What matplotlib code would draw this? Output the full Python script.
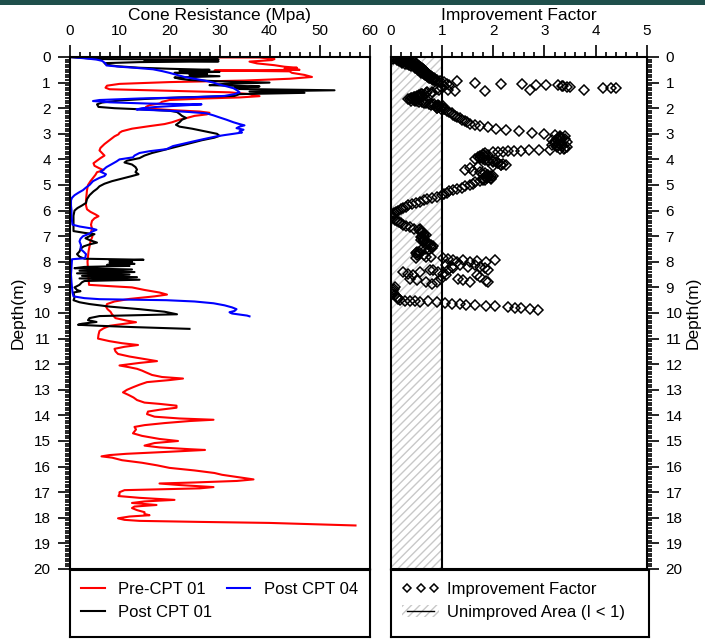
import matplotlib
matplotlib.use("Agg")
import matplotlib.pyplot as plt
from matplotlib.lines import Line2D
from matplotlib.patches import Patch, Rectangle
from matplotlib.ticker import MultipleLocator

plt.rcParams['font.family'] = ['Liberation Sans', 'DejaVu Sans']
plt.rcParams['hatch.linewidth'] = 1.0

# Pre-CPT 01 (depth m, cone resistance MPa)
pre_depth = [0.00, 0.02, 0.08, 0.12, 0.18, 0.25, 0.32, 0.38, 0.42, 0.46, 0.50, 0.53, 0.56, 0.62, 0.70, 0.78,
             0.85, 0.92, 0.98, 1.05, 1.12, 1.20, 1.26, 1.32, 1.38, 1.45, 1.53, 1.58, 1.62, 1.68, 1.75, 1.82,
             1.88, 1.95, 2.02, 2.08, 2.13, 2.18, 2.24, 2.30, 2.38, 2.45, 2.55, 2.62, 2.70, 2.80, 2.90, 2.96,
             3.02, 3.10, 3.25, 3.40, 3.55, 3.65, 3.75, 3.85, 3.95, 4.05, 4.15, 4.25, 4.35, 4.42, 4.50, 4.60,
             4.70, 4.85, 5.00, 5.20, 5.40, 5.60, 5.80, 5.95, 6.05, 6.15, 6.22, 6.30, 6.40, 6.55, 6.70, 6.85,
             7.00, 7.20, 7.40, 7.60, 7.80, 8.00, 8.30, 8.60, 8.90, 8.95, 9.00, 9.10, 9.20, 9.28, 9.35, 9.45,
             9.55, 9.65, 9.75, 9.85, 9.95, 10.05, 10.20, 10.30, 10.36, 10.42, 10.50, 10.60, 10.70, 10.85,
             11.00, 11.10, 11.18, 11.25, 11.32, 11.40, 11.50, 11.60, 11.70, 11.80, 11.88, 11.95, 12.05,
             12.12, 12.18, 12.25, 12.32, 12.42, 12.50, 12.56, 12.62, 12.70, 12.80, 12.90, 13.00, 13.10,
             13.20, 13.30, 13.40, 13.50, 13.55, 13.62, 13.70, 13.78, 13.85, 13.95, 14.05, 14.12, 14.17,
             14.22, 14.30, 14.38, 14.45, 14.55, 14.70, 14.80, 14.85, 14.92, 15.00, 15.08, 15.18, 15.25,
             15.32, 15.35, 15.42, 15.50, 15.55, 15.60, 15.65, 15.75, 15.85, 15.95, 16.05, 16.15, 16.25,
             16.32, 16.42, 16.50, 16.56, 16.62, 16.66, 16.72, 16.80, 16.85, 16.92, 17.00, 17.08, 17.15,
             17.22, 17.30, 17.36, 17.42, 17.50, 17.56, 17.62, 17.70, 17.78, 17.85, 17.90, 17.95, 18.02,
             18.08, 18.12, 18.16, 18.20, 18.28, 18.30]
pre_qc = [0.0, 38.0, 41.0, 40.5, 36.0, 37.5, 41.0, 43.0, 45.5, 43.0, 46.0, 29.0, 44.0, 44.5, 47.0, 48.5,
          44.0, 35.0, 20.0, 10.0, 7.5, 7.2, 8.0, 20.0, 32.0, 36.0, 38.0, 34.0, 27.0, 20.0, 18.5, 18.0,
          16.0, 15.3, 16.0, 21.0, 26.0, 28.0, 27.5, 25.0, 23.5, 22.0, 20.5, 19.0, 16.0, 12.5, 10.5, 10.0,
          9.8, 9.0, 8.0, 7.0, 6.2, 6.0, 6.5, 7.0, 6.2, 5.5, 4.8, 5.0, 6.0, 6.8, 5.5, 5.2,
          4.8, 4.2, 3.7, 3.5, 3.4, 3.3, 3.3, 3.5, 4.2, 5.2, 5.8, 5.0, 4.5, 4.3, 4.5, 4.3,
          4.6, 4.2, 4.0, 3.8, 3.7, 3.6, 3.7, 3.8, 3.9, 8.0, 12.5, 15.0, 18.0, 19.5, 17.0, 12.0,
          9.0, 7.5, 7.3, 7.6, 8.2, 8.5, 9.2, 11.5, 13.3, 11.0, 8.0, 6.8, 6.0, 5.8,
          5.7, 8.0, 10.5, 13.7, 11.0, 9.0, 9.2, 9.7, 12.0, 15.0, 17.5, 14.0, 10.0,
          12.0, 13.5, 14.5, 15.3, 16.5, 18.5, 22.7, 20.0, 15.5, 14.0, 12.7, 11.5, 10.7,
          11.8, 12.8, 13.5, 15.0, 18.0, 21.4, 21.4, 18.0, 15.7, 15.5, 17.0, 22.0, 28.8,
          24.0, 19.0, 15.0, 13.0, 13.3, 12.7, 14.5, 16.0, 18.0, 21.7, 17.0, 15.0, 18.0,
          24.0, 27.1, 20.0, 11.4, 8.0, 6.4, 8.5, 10.5, 14.5, 17.5, 20.0, 25.0, 29.0,
          30.5, 34.0, 36.8, 33.5, 25.0, 18.0, 22.0, 28.8, 26.0, 11.0, 10.0, 10.0, 9.8,
          14.0, 21.0, 15.0, 12.5, 17.4, 13.0, 12.5, 13.5, 15.0, 15.0, 16.0, 12.0, 9.7,
          11.0, 14.0, 26.0, 40.0, 54.0, 57.2]

# Post CPT 01
post1_depth = [0.00, 0.04, 0.08, 0.10, 0.13, 0.17, 0.20, 0.24, 0.30, 0.36, 0.42, 0.46, 0.50, 0.54, 0.58, 0.62,
               0.66, 0.70, 0.75, 0.80, 0.85, 0.90, 0.95, 1.00, 1.05, 1.10, 1.15, 1.20, 1.25, 1.30, 1.35, 1.40,
               1.45, 1.52, 1.58, 1.64, 1.70, 1.78, 1.85, 1.95, 2.00, 2.05, 2.10, 2.15, 2.22, 2.30, 2.38, 2.45,
               2.55, 2.65, 2.72, 2.80, 2.90, 3.00, 3.08, 3.15, 3.25, 3.35, 3.45, 3.55, 3.65, 3.75, 3.85, 3.95,
               4.05, 4.12, 4.20, 4.30, 4.40, 4.50, 4.58, 4.65, 4.75, 4.85, 4.95, 5.05, 5.15, 5.25, 5.40, 5.55,
               5.70, 5.80, 5.90, 6.00, 6.20, 6.40, 6.60, 6.80, 6.87, 6.92, 7.00, 7.08, 7.15, 7.25, 7.32, 7.40,
               7.50, 7.60, 7.70, 7.80, 7.88, 7.92, 7.96, 8.00, 8.04, 8.08, 8.12, 8.16, 8.20, 8.25, 8.30, 8.35,
               8.40, 8.45, 8.50, 8.55, 8.60, 8.65, 8.70, 8.75, 8.80, 8.90, 9.00, 9.10, 9.15, 9.20, 9.30, 9.40,
               9.50, 9.58, 9.65, 9.75, 9.85, 9.95, 10.05, 10.08, 10.12, 10.20, 10.28, 10.35, 10.42, 10.46,
               10.50, 10.55, 10.62]
post1_qc = [0.0, 3.0, 5.5, 29.8, 15.0, 29.8, 14.0, 7.0, 7.4, 9.5, 14.0, 20.0, 28.0, 22.0, 30.0, 21.0,
            27.5, 24.0, 30.0, 21.0, 22.0, 24.0, 30.0, 40.0, 31.0, 28.0, 38.0, 33.0, 34.0, 53.0, 36.0, 47.0,
            34.0, 33.0, 22.0, 15.0, 10.0, 6.5, 5.5, 5.8, 9.0, 15.0, 20.0, 21.5, 22.0, 22.5, 23.3, 22.5,
            22.0, 21.3, 22.0, 24.5, 27.0, 29.5, 30.0, 29.0, 26.5, 24.5, 22.5, 20.5, 18.5, 16.5, 15.0, 14.0,
            11.5, 11.0, 12.5, 13.2, 13.5, 13.2, 13.8, 12.5, 10.5, 8.5, 7.0, 6.0, 5.5, 4.8, 4.0, 3.5,
            3.3, 2.5, 1.6, 1.0, 0.8, 0.8, 0.8, 0.8, 3.0, 5.0, 4.0, 3.2, 4.0, 5.5, 4.0, 2.8,
            2.2, 2.0, 1.5, 2.0, 3.0, 14.8, 8.0, 12.5, 8.0, 13.0, 7.5, 12.0, 3.0, 1.0, 12.5, 2.0,
            13.0, 1.5, 12.0, 2.5, 13.5, 2.0, 14.0, 3.0, 2.5, 2.0, 1.0, 1.5, 2.2, 0.8, 0.9, 1.0,
            0.8, 2.0, 4.0, 8.0, 14.0, 19.0, 21.5, 15.0, 6.0, 4.0, 3.7, 5.4, 2.5, 1.7,
            6.0, 12.7, 24.0]

# Post CPT 04
post4_depth = [0.00, 0.05, 0.10, 0.15, 0.25, 0.33, 0.38, 0.42, 0.48, 0.55, 0.62, 0.70, 0.78, 0.85, 0.92, 1.00,
               1.08, 1.15, 1.22, 1.30, 1.38, 1.45, 1.52, 1.57, 1.62, 1.68, 1.72, 1.77, 1.82, 1.85, 1.90, 1.95,
               2.00, 2.05, 2.10, 2.15, 2.20, 2.28, 2.36, 2.45, 2.55, 2.62, 2.67, 2.72, 2.78, 2.84, 2.90, 2.95,
               3.00, 3.05, 3.10, 3.20, 3.30, 3.40, 3.48, 3.60, 3.68, 3.75, 3.85, 3.92, 4.00, 4.08, 4.18, 4.30,
               4.40, 4.48, 4.58, 4.65, 4.72, 4.85, 5.00, 5.10, 5.20, 5.30, 5.40, 5.50, 5.60, 5.80, 6.00, 6.20,
               6.40, 6.55, 6.62, 6.70, 6.75, 6.82, 6.90, 7.00, 7.10, 7.20, 7.35, 7.50, 7.60, 7.70, 7.80, 7.86,
               7.90, 8.20, 8.50, 8.80, 9.00, 9.20, 9.35, 9.42, 9.46, 9.50, 9.55, 9.62, 9.70, 9.78, 9.85, 9.92,
               9.97, 10.02, 10.06, 10.10, 10.13]
post4_qc = [0.0, 3.0, 5.4, 6.5, 7.2, 7.4, 10.0, 13.0, 16.7, 18.5, 20.0, 21.5, 23.0, 25.0, 27.0, 28.8,
            30.0, 31.5, 32.8, 33.5, 34.0, 33.0, 31.0, 25.0, 14.0, 6.0, 4.7, 8.0, 16.0, 26.4, 22.0, 17.4,
            14.5, 13.4, 20.0, 24.0, 27.4, 28.8, 30.0, 31.4, 32.8, 34.0, 35.0, 34.0, 33.4, 34.8, 34.0, 34.5,
            32.8, 31.0, 29.4, 27.0, 24.7, 22.5, 20.7, 19.4, 16.0, 14.0, 13.0, 12.7, 10.0, 9.4, 8.5, 7.4,
            6.8, 6.2, 7.3, 7.0, 6.0, 4.7, 4.0, 3.3, 2.7, 1.8, 1.0, 0.5, 0.3, 0.3, 0.4, 0.4,
            0.5, 0.6, 2.0, 4.5, 5.4, 4.5, 4.0, 2.7, 2.2, 2.0, 2.3, 2.2, 2.8, 3.3, 3.2, 3.1,
            0.5, 0.4, 0.3, 0.4, 0.5, 0.6, 0.8, 3.0, 6.0, 19.4, 25.0, 28.8, 31.0, 32.5, 33.4, 33.0,
            32.0, 32.5, 34.0, 35.5, 36.0]

# Improvement factor points (depth m, factor)
if_depth = [0.00, 0.02, 0.04, 0.06, 0.06, 0.08, 0.10, 0.10, 0.12, 0.13, 0.15, 0.16, 0.18, 0.19, 0.21, 0.22,
            0.24, 0.25, 0.27, 0.28, 0.30, 0.31, 0.33, 0.35, 0.37, 0.39, 0.41, 0.43, 0.45, 0.47, 0.49, 0.51,
            0.53, 0.55, 0.57, 0.59, 0.61, 0.63, 0.65, 0.67, 0.69, 0.71, 0.73, 0.75, 0.77, 0.79, 0.81, 0.83,
            0.85, 0.87, 0.89, 0.91, 0.93,
            0.95, 0.97, 0.95, 1.01, 1.32, 1.04, 1.04, 1.27, 1.10, 1.08, 1.10, 1.14, 1.19, 1.27, 1.21, 1.23,
            1.23, 1.05, 1.27, 1.32, 1.15, 1.18,
            1.10, 1.15, 1.20, 1.25, 1.30, 1.35, 1.40, 1.43, 1.45, 1.48, 1.50, 1.53, 1.55, 1.58, 1.60, 1.63,
            1.65, 1.68, 1.70, 1.73, 1.75, 1.78, 1.80, 1.83, 1.85, 1.88, 1.90, 1.93, 1.95, 1.98, 2.00, 2.03,
            2.05, 2.10, 2.15, 2.20, 2.25, 2.30, 2.35, 2.40, 2.45, 2.50, 2.55, 2.60, 2.65, 2.70, 2.75, 2.80,
            2.85, 2.90, 2.95, 3.00, 3.05, 3.10, 3.12, 3.15, 3.20, 3.22, 3.25, 3.30, 3.32, 3.35, 3.40, 3.42,
            3.45, 3.50, 3.52, 3.55, 3.60, 3.62, 3.64, 3.65, 3.66, 3.68, 3.69, 3.70, 3.72, 3.73, 3.76, 3.80,
            3.82, 3.85, 3.88, 3.90, 3.93, 3.95, 3.98, 4.00, 4.03, 4.05, 4.08, 4.10, 4.13, 4.15, 4.18, 4.20,
            4.23, 4.25, 4.30, 4.35, 4.40, 4.45, 4.50, 4.55, 4.58, 4.60, 4.63, 4.65, 4.68, 4.70, 4.73, 4.75,
            4.78, 4.80, 4.85, 4.90, 4.95, 5.00, 5.05, 5.10, 5.15, 5.20, 5.25, 5.30, 5.35, 5.40, 5.45, 5.50,
            5.55, 5.60, 5.65, 5.70, 5.75, 5.80, 5.85, 5.90, 5.95, 6.00, 6.05, 6.10, 6.15, 6.20, 6.25, 6.30,
            6.35, 6.40, 6.45, 6.50, 6.55, 6.60, 6.65, 6.70, 6.75, 6.80, 6.85, 6.90, 6.95, 7.00, 7.05, 7.10,
            7.15, 7.20, 7.25, 7.30, 7.35, 7.40, 7.45, 7.50, 7.55, 7.60, 7.65, 7.70, 7.75, 7.80, 7.84,
            7.87, 7.91, 7.94, 8.00, 7.94, 8.00, 7.96, 8.00, 7.94, 8.12, 8.20, 8.12, 8.20, 8.12, 8.20, 8.25,
            8.33, 8.33, 8.40, 8.46, 8.33, 8.25, 8.40, 8.46, 8.53, 8.40, 8.66, 8.72, 8.79, 8.85, 8.79, 8.66,
            8.53, 8.66, 8.72, 8.79, 8.53, 8.59, 8.75, 8.31, 8.77,
            8.98, 9.05, 9.11, 9.18, 9.24, 9.30, 9.37, 9.42, 9.46,
            9.50, 9.53, 9.54, 9.55, 9.57, 9.54, 9.57, 9.61, 9.63, 9.66, 9.67, 9.70, 9.74, 9.74, 9.76, 9.79,
            9.80, 9.83, 9.87,
            # extra points that thicken the dense stretches
            0.14, 0.20, 0.26, 0.34, 0.44, 0.52, 0.62, 0.72, 0.82, 0.90,
            1.38, 1.46, 1.52, 1.56, 1.62, 1.66, 1.72, 1.76, 1.82, 1.86, 1.92, 1.96, 2.02,
            3.08, 3.18, 3.28, 3.38, 3.48, 3.58, 3.84, 3.92, 4.02, 4.12, 4.22, 4.62, 4.72, 4.82,
            6.72, 6.88, 7.02, 7.18, 7.32, 7.42, 7.52, 7.62, 7.72, 7.82]
if_value = [0.03, 0.06, 0.10, 0.05, 0.14, 0.18, 0.12, 0.24, 0.30, 0.20, 0.36, 0.26, 0.42, 0.30, 0.46, 0.22,
            0.34, 0.50, 0.28, 0.40, 0.36, 0.48, 0.44, 0.55, 0.50, 0.58, 0.52, 0.62, 0.56, 0.64, 0.60, 0.66,
            0.58, 0.68, 0.62, 0.70, 0.64, 0.72, 0.66, 0.74, 0.70, 0.76, 0.72, 0.78, 0.74, 0.80, 0.77, 0.84,
            0.80, 0.86, 0.84, 0.90, 0.88,
            0.96, 1.04, 1.30, 1.65, 1.84, 2.16, 2.57, 2.71, 2.84, 3.04, 3.26, 3.36, 3.49, 3.77, 4.14, 4.29,
            4.40, 1.10, 1.12, 1.25, 3.35, 3.45,
            1.15, 1.05, 1.00, 0.90, 0.95, 0.80, 0.70, 0.78, 0.60, 0.68, 0.55, 0.62, 0.45, 0.55, 0.40, 0.50,
            0.35, 0.45, 0.40, 0.52, 0.55, 0.65, 0.70, 0.80, 0.85, 0.92, 0.95, 1.02, 1.00, 0.90, 0.90, 1.05,
            1.05, 1.10, 1.15, 1.20, 1.22, 1.25, 1.30, 1.35, 1.40, 1.45, 1.50, 1.55, 1.65, 1.75, 1.90, 2.05,
            2.25, 2.50, 2.75, 3.00, 3.20, 3.40, 3.30, 3.30, 3.25, 3.40, 3.15, 3.30, 3.45, 3.20, 3.35, 3.25,
            3.15, 3.25, 3.45, 3.40, 3.30, 3.10, 2.90, 2.70, 2.55, 2.40, 2.30, 2.20, 2.10, 2.00, 1.85, 1.80,
            1.90, 1.75, 1.85, 1.70, 1.80, 1.75, 1.65, 1.80, 1.90, 1.90, 2.00, 2.00, 2.10, 2.10, 2.20, 2.25,
            2.15, 2.00, 1.70, 1.55, 1.45, 1.60, 1.75, 1.85, 1.80, 1.90, 2.00, 1.95, 1.85, 1.90, 1.95, 1.95,
            1.80, 1.85, 1.75, 1.65, 1.60, 1.55, 1.45, 1.40, 1.30, 1.22, 1.15, 1.10, 1.05, 1.00, 0.90, 0.80,
            0.72, 0.65, 0.57, 0.50, 0.42, 0.35, 0.30, 0.25, 0.20, 0.15, 0.10, 0.07, 0.04, 0.03, 0.03, 0.05,
            0.08, 0.12, 0.16, 0.20, 0.25, 0.30, 0.38, 0.45, 0.55, 0.60, 0.62, 0.65, 0.70, 0.65, 0.62, 0.66,
            0.60, 0.65, 0.70, 0.75, 0.78, 0.82, 0.80, 0.70, 0.60, 0.52, 0.50, 0.55, 0.65, 0.78, 0.50,
            1.03, 1.12, 1.22, 1.29, 1.42, 1.55, 1.68, 1.87, 2.03, 1.09, 1.19, 1.35, 1.51, 1.64, 1.74, 1.84,
            1.90, 0.83, 0.93, 1.03, 1.12, 1.22, 0.25, 0.34, 0.44, 0.57, 0.38, 0.51, 0.70, 0.80, 0.90, 0.99,
            1.09, 1.32, 1.42, 1.55, 1.68, 1.74, 1.87, 0.77, 1.90,
            0.08, 0.06, 0.05, 0.05, 0.05, 0.08, 0.12, 0.14, 0.15,
            0.18, 0.28, 0.38, 0.47, 0.57, 0.73, 0.90, 1.06, 1.19, 1.35, 1.48, 1.64, 1.87, 2.03, 2.29, 2.42,
            2.55, 2.71, 2.88,
            0.16, 0.22, 0.32, 0.40, 0.48, 0.54, 0.60, 0.68, 0.76, 0.82,
            0.72, 0.62, 0.52, 0.48, 0.42, 0.38, 0.48, 0.62, 0.75, 0.78, 0.88, 0.95, 0.98,
            3.30, 3.35, 3.20, 3.28, 3.35, 3.38, 1.80, 1.78, 1.85, 2.05, 2.15, 1.88, 1.88, 1.80,
            0.58, 0.62, 0.60, 0.63, 0.72, 0.78, 0.75, 0.55, 0.52, 0.70]

unimproved_limit = 1.0

fig = plt.figure(figsize=(7.05, 6.39), dpi=100)
fig.patches.append(Rectangle((0, 1 - 5 / 639), 1, 5 / 639, transform=fig.transFigure,
                             facecolor='#1f4f4b', edgecolor='none'))

ax1 = fig.add_axes([69.5 / 705, 1 - 569 / 639, 300 / 705, 512 / 639])
ax2 = fig.add_axes([390.5 / 705, 1 - 569 / 639, 256.5 / 705, 512 / 639])
leg1 = fig.add_axes([69.5 / 705, 2 / 639, 300 / 705, 67 / 639])
leg2 = fig.add_axes([390.5 / 705, 2 / 639, 258 / 705, 67 / 639])

tick_fs = 11
title_fs = 12.5
legend_fs = 12

# left panel: cone resistance
ax1.plot(pre_qc, pre_depth, color='#ff0000', lw=1.5, label='Pre-CPT 01')
ax1.plot(post1_qc, post1_depth, color='black', lw=1.5, label='Post CPT 01')
ax1.plot(post4_qc, post4_depth, color='#0000ff', lw=1.5, label='Post CPT 04')
ax1.set_xlim(0, 60)
ax1.set_ylim(20, 0)
ax1.xaxis.set_major_locator(MultipleLocator(10))
ax1.xaxis.set_minor_locator(MultipleLocator(2))
ax1.yaxis.set_major_locator(MultipleLocator(1))
ax1.yaxis.set_minor_locator(MultipleLocator(0.1))
ax1.xaxis.tick_top()
ax1.xaxis.set_label_position('top')
ax1.set_xlabel('Cone Resistance (Mpa)', fontsize=title_fs, labelpad=3)
ax1.set_ylabel('Depth(m)', fontsize=title_fs, labelpad=6)
ax1.tick_params(which='both', direction='out', width=1.2, labelsize=tick_fs)
ax1.tick_params(which='major', length=8.5, pad=5)
ax1.tick_params(which='minor', length=3.5)

# right panel: improvement factor
ax2.axvspan(0, unimproved_limit, facecolor='white', edgecolor='#c8c8c8', hatch='////', lw=0)
ax2.axvline(unimproved_limit, color='black', lw=1.5)
ax2.plot(if_value, if_depth, ls='none', marker='D', ms=4.8, mfc='none', mec='black', mew=1.1)
ax2.set_xlim(0, 5)
ax2.set_ylim(20, 0)
ax2.xaxis.set_major_locator(MultipleLocator(1))
ax2.xaxis.set_minor_locator(MultipleLocator(0.2))
ax2.yaxis.set_major_locator(MultipleLocator(1))
ax2.yaxis.set_minor_locator(MultipleLocator(0.1))
ax2.xaxis.tick_top()
ax2.xaxis.set_label_position('top')
ax2.yaxis.tick_right()
ax2.yaxis.set_label_position('right')
ax2.set_xlabel('Improvement Factor', fontsize=title_fs, labelpad=3)
ax2.set_ylabel('Depth(m)', fontsize=title_fs, rotation=90, labelpad=2)
ax2.tick_params(which='both', direction='out', width=1.2, labelsize=tick_fs)
ax2.tick_params(which='major', length=8.5, pad=5)
ax2.tick_params(which='minor', length=3.5)

for ax in (ax1, ax2, leg1, leg2):
    for s in ax.spines.values():
        s.set_linewidth(1.5)

# legend boxes under each panel
for lg in (leg1, leg2):
    lg.set_xticks([])
    lg.set_yticks([])

h1 = [Line2D([], [], color='#ff0000', lw=1.5), Line2D([], [], color='black', lw=1.5),
      Line2D([], [], color='#0000ff', lw=1.5)]
leg1.legend(h1, ['Pre-CPT 01', 'Post CPT 01', 'Post CPT 04'], ncol=2, loc='upper left',
            frameon=False, fontsize=legend_fs, handlelength=1.4, handletextpad=0.8,
            columnspacing=0.9, labelspacing=0.5, borderaxespad=0.3)

h2 = [Line2D([], [], ls='none', marker='D', ms=4.5, mfc='none', mec='black', mew=1.1),
      (Patch(facecolor='white', edgecolor='#c8c8c8', hatch='////', lw=0),
       Line2D([], [], color='black', lw=1))]
leg2.legend(h2, ['Improvement Factor', 'Unimproved Area (I < 1)'], numpoints=3, loc='upper left',
            frameon=False, fontsize=legend_fs, handlelength=2.2, handletextpad=0.5,
            labelspacing=0.5, borderaxespad=0.3)

fig.savefig('out.png', dpi=100)
